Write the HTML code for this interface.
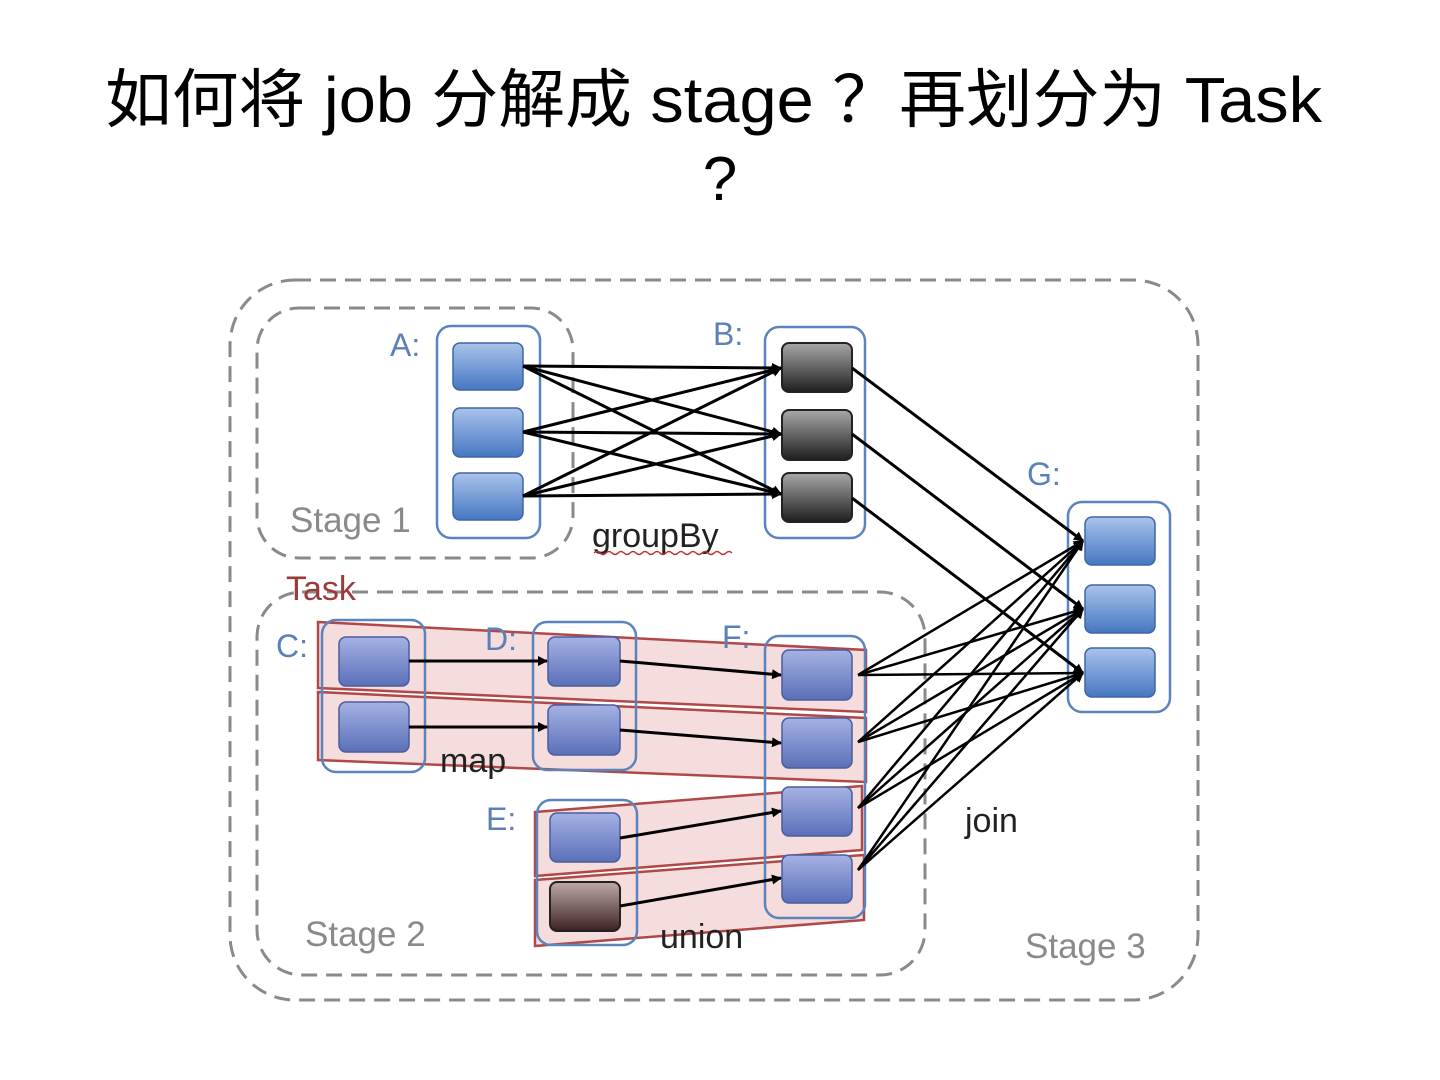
<!DOCTYPE html>
<html><head><meta charset="utf-8"><style>
html,body{margin:0;padding:0;background:#fff;}
svg{display:block;}
</style></head><body>
<svg width="1440" height="1080" viewBox="0 0 1440 1080" xmlns="http://www.w3.org/2000/svg">
<defs>
<linearGradient id="blue" x1="0" y1="0" x2="0" y2="1"><stop offset="0" stop-color="#a9c3ea"/><stop offset="1" stop-color="#4677c2"/></linearGradient>
<linearGradient id="purp" x1="0" y1="0" x2="0" y2="1"><stop offset="0" stop-color="#a6b2e4"/><stop offset="1" stop-color="#5a6fb8"/></linearGradient>
<linearGradient id="dark" x1="0" y1="0" x2="0" y2="1"><stop offset="0" stop-color="#a8a8a8"/><stop offset="1" stop-color="#1e1e1e"/></linearGradient>
<linearGradient id="brown" x1="0" y1="0" x2="0" y2="1"><stop offset="0" stop-color="#bfaaa8"/><stop offset="1" stop-color="#3a2222"/></linearGradient>
<marker id="ar" markerWidth="10" markerHeight="10" refX="9" refY="5" orient="auto" markerUnits="userSpaceOnUse"><path d="M0,0 L10,5 L0,10z" fill="#000"/></marker>
</defs>
<g font-family="'Liberation Sans','Noto Sans CJK SC',sans-serif" font-size="64" fill="#000">
<text x="105" y="122" textLength="1217" lengthAdjust="spacingAndGlyphs">如何将 job 分解成 stage ？再划分为 Task</text>
<text x="720" y="200" text-anchor="middle" font-size="62">?</text>
</g>
<g fill="none" stroke="#8a8a8a" stroke-width="3" stroke-dasharray="16,9">
<rect x="230" y="280" width="968" height="720" rx="65"/>
<rect x="257" y="308" width="316" height="250" rx="42"/>
<rect x="257" y="592" width="668" height="383" rx="45"/>
</g>
<g fill="#f2d2d2" fill-opacity="0.75" stroke="#b04848" stroke-width="2.5">
<polygon points="318,622 866,650 866,712 318,688"/>
<polygon points="318,692 866,718 866,782 318,760"/>
<polygon points="535,812 862,786 862,850 535,876"/>
<polygon points="535,880 864,855 864,920 535,946"/>
</g>
<g fill="none" stroke="#5a84bb" stroke-width="2.5">
<rect x="437" y="326" width="103" height="212" rx="14"/>
<rect x="765" y="327" width="100" height="211" rx="14"/>
<rect x="1068" y="502" width="102" height="210" rx="14"/>
<rect x="322" y="620" width="103" height="152" rx="14"/>
<rect x="533" y="622" width="103" height="148" rx="14"/>
<rect x="537" y="800" width="100" height="145" rx="14"/>
<rect x="765" y="636" width="100" height="282" rx="14"/>
</g>
<g stroke="#3f65a3" stroke-width="1.5">
<rect x="453" y="343" width="70" height="47" rx="7" fill="url(#blue)"/>
<rect x="453" y="408" width="70" height="49" rx="7" fill="url(#blue)"/>
<rect x="453" y="473" width="70" height="47" rx="7" fill="url(#blue)"/>
<rect x="1085" y="517" width="70" height="48" rx="7" fill="url(#blue)"/>
<rect x="1085" y="585" width="70" height="48" rx="7" fill="url(#blue)"/>
<rect x="1085" y="648" width="70" height="49" rx="7" fill="url(#blue)"/>
</g>
<g stroke="#222" stroke-width="2">
<rect x="782" y="343" width="70" height="49" rx="7" fill="url(#dark)"/>
<rect x="782" y="410" width="70" height="50" rx="7" fill="url(#dark)"/>
<rect x="782" y="473" width="70" height="49" rx="7" fill="url(#dark)"/>
<rect x="550" y="882" width="70" height="49" rx="7" fill="url(#brown)"/>
</g>
<g stroke="#4a5da0" stroke-width="1.5" fill="url(#purp)">
<rect x="339" y="637" width="70" height="49" rx="7"/>
<rect x="339" y="702" width="70" height="50" rx="7"/>
<rect x="548" y="637" width="72" height="49" rx="7"/>
<rect x="548" y="705" width="72" height="50" rx="7"/>
<rect x="550" y="813" width="70" height="49" rx="7"/>
<rect x="782" y="650" width="70" height="50" rx="7"/>
<rect x="782" y="718" width="70" height="50" rx="7"/>
<rect x="782" y="787" width="70" height="49" rx="7"/>
<rect x="782" y="855" width="70" height="48" rx="7"/>
</g>
<g stroke="#000" stroke-width="3" marker-end="url(#ar)">
<line x1="523" y1="366" x2="781" y2="368"/><line x1="523" y1="366" x2="781" y2="434"/><line x1="523" y1="366" x2="781" y2="494"/>
<line x1="523" y1="432" x2="781" y2="368"/><line x1="523" y1="432" x2="781" y2="434"/><line x1="523" y1="432" x2="781" y2="494"/>
<line x1="523" y1="496" x2="781" y2="368"/><line x1="523" y1="496" x2="781" y2="434"/><line x1="523" y1="496" x2="781" y2="494"/>
<line x1="852" y1="368" x2="1083" y2="541"/><line x1="852" y1="434" x2="1083" y2="609"/><line x1="852" y1="498" x2="1083" y2="673"/>
<line x1="409" y1="661" x2="547" y2="661"/><line x1="409" y1="727" x2="547" y2="727"/>
<line x1="620" y1="661" x2="781" y2="675"/><line x1="620" y1="730" x2="781" y2="743"/>
<line x1="620" y1="838" x2="781" y2="811"/><line x1="620" y1="906" x2="781" y2="878"/>
</g>
<g stroke="#000" stroke-width="2.5" marker-end="url(#ar)">
<line x1="858" y1="675" x2="1083" y2="541"/><line x1="858" y1="675" x2="1083" y2="609"/><line x1="858" y1="675" x2="1083" y2="673"/>
<line x1="858" y1="742" x2="1083" y2="541"/><line x1="858" y1="742" x2="1083" y2="609"/><line x1="858" y1="742" x2="1083" y2="673"/>
<line x1="858" y1="808" x2="1083" y2="541"/><line x1="858" y1="808" x2="1083" y2="609"/><line x1="858" y1="808" x2="1083" y2="673"/>
<line x1="858" y1="870" x2="1083" y2="541"/><line x1="858" y1="870" x2="1083" y2="609"/><line x1="858" y1="870" x2="1083" y2="673"/>
</g>
<g font-family="'Liberation Sans',sans-serif" font-size="32" fill="#5b80b8">
<text x="390" y="356">A:</text><text x="713" y="345">B:</text><text x="1027" y="485">G:</text>
<text x="276" y="657">C:</text><text x="485" y="650">D:</text><text x="722" y="648">F:</text><text x="486" y="830">E:</text>
</g>
<g font-family="'Liberation Sans',sans-serif" font-size="35" fill="#8a8a8a">
<text x="290" y="532">Stage 1</text><text x="305" y="946">Stage 2</text><text x="1025" y="958">Stage 3</text>
</g>
<g font-family="'Liberation Sans',sans-serif" font-size="34" fill="#222">
<text x="592" y="547">groupBy</text><text x="440" y="772">map</text><text x="660" y="948">union</text><text x="965" y="832">join</text>
</g>
<text x="286" y="600" font-family="'Liberation Sans',sans-serif" font-size="34" fill="#9a3a3a">Task</text>
<path d="M594,553 q3,-3 6,0 t6,0 t6,0 t6,0 t6,0 t6,0 t6,0 t6,0 t6,0 t6,0 t6,0 t6,0 t6,0 t6,0 t6,0 t6,0 t6,0 t6,0 t6,0 t6,0 t6,0 t6,0 t6,0" stroke="#c03030" fill="none" stroke-width="1.5"/>
</svg>
</body></html>
